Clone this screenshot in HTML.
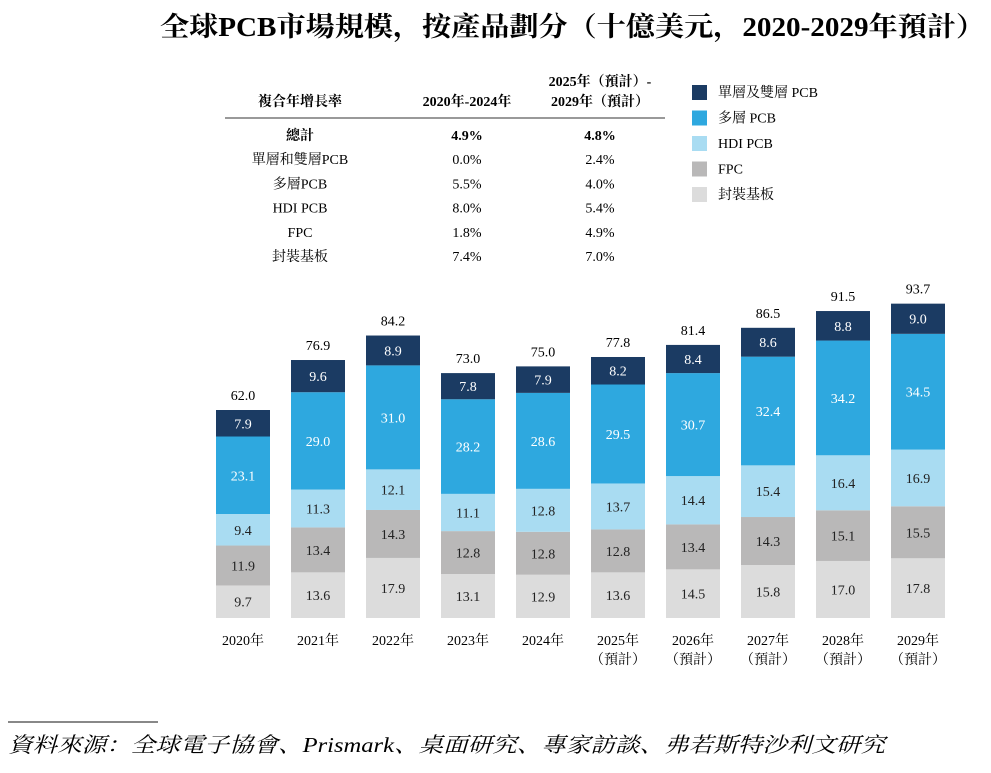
<!DOCTYPE html>
<html><head><meta charset="utf-8">
<style>
body{margin:0;background:#fff;width:991px;height:768px;overflow:hidden;font-family:"Liberation Serif","Noto Serif CJK SC","Noto Sans CJK TC",serif;color:#111}
svg text{font-family:"Liberation Serif","Noto Serif CJK SC","Noto Sans CJK TC",serif}
</style></head>
<body>
<svg id="chart" width="991" height="768">
<text x="160" y="36" font-size="27" font-weight="bold" textLength="825" lengthAdjust="spacingAndGlyphs">全球PCB市場規模，按產品劃分（十億美元，2020-2029年預計）</text>
<g id="table" font-size="14">
<text x="300" y="106" text-anchor="middle" font-weight="bold">複合年增長率</text>
<text x="467" y="106" text-anchor="middle" font-weight="bold">2020年-2024年</text>
<text x="600" y="86" text-anchor="middle" font-weight="bold">2025年（預計）-</text>
<text x="600" y="106" text-anchor="middle" font-weight="bold">2029年（預計）</text>
<line x1="225" y1="118" x2="665" y2="118" stroke="#333" stroke-width="1"/>
</g>
<g id="legend" font-size="14"></g>
<g id="bars"></g>
<g id="xlabels" font-size="14"></g>
<line x1="8" y1="722" x2="158" y2="722" stroke="#111" stroke-width="1"/>
<text x="8" y="752" font-size="21" font-style="italic" textLength="877" lengthAdjust="spacingAndGlyphs">資料來源：全球電子協會、Prismark、桌面研究、專家訪談、弗若斯特沙利文研究</text>
</svg>
<script>
const years=["2020年","2021年","2022年","2023年","2024年","2025年","2026年","2027年","2028年","2029年"];
const forecast=[false,false,false,false,false,true,true,true,true,true];
const pkg=[9.7,13.6,17.9,13.1,12.9,13.6,14.5,15.8,17.0,17.8];
const fpc=[11.9,13.4,14.3,12.8,12.8,12.8,13.4,14.3,15.1,15.5];
const hdi=[9.4,11.3,12.1,11.1,12.8,13.7,14.4,15.4,16.4,16.9];
const multi=[23.1,29.0,31.0,28.2,28.6,29.5,30.7,32.4,34.2,34.5];
const single=[7.9,9.6,8.9,7.8,7.9,8.2,8.4,8.6,8.8,9.0];
const totals=[62.0,76.9,84.2,73.0,75.0,77.8,81.4,86.5,91.5,93.7];
const seriesNames=["單層及雙層 PCB","多層 PCB","HDI PCB","FPC","封裝基板"];
const tableRows=["總計","單層和雙層PCB","多層PCB","HDI PCB","FPC","封裝基板"];
const cagr1=["4.9%","0.0%","5.5%","8.0%","1.8%","7.4%"];
const cagr2=["4.8%","2.4%","4.0%","5.4%","4.9%","7.0%"];
const NS="http://www.w3.org/2000/svg";
function mk(t,a,p,txt){const e=document.createElementNS(NS,t);for(const k in a)e.setAttribute(k,a[k]);if(txt!==undefined)e.textContent=txt;p.appendChild(e);return e;}
const base=618,scale=208/62,x0=243,step=75,bw=54;
const y=v=>base-v*scale, x=i=>x0+i*step;
const colors=["#dcdcdc","#b9b8b8","#a9dcf2","#2ea8df","#1b3b63"];
const textCol=["#222","#222","#222","#fff","#fff"];
const segNames=["packaging-substrate","fpc","hdi-pcb","multilayer-pcb","single-double-pcb"];
const series=[pkg,fpc,hdi,multi,single];
const bars=document.getElementById('bars');
years.forEach((yr,i)=>{let cum=0;
 series.forEach((s,k)=>{const v=s[i];
  const r=mk('rect',{x:x(i)-bw/2,y:y(cum+v),width:bw,height:v*scale,fill:colors[k]},bars);
  
  
  const t=mk('text',{x:x(i),y:y(cum+v/2)+5,'text-anchor':'middle','font-size':14,fill:textCol[k]},bars,v.toFixed(1));
  
  
  cum+=v;});
 const tt=mk('text',{x:x(i),y:y(totals[i])-10,'text-anchor':'middle','font-size':14},bars,totals[i].toFixed(1));
 
 
 const xl=document.getElementById('xlabels');
 const l=mk('text',{x:x(i),y:645,'text-anchor':'middle'},xl,yr);
 
 
 if(forecast[i]){const f=mk('text',{x:x(i),y:664,'text-anchor':'middle'},xl,"（預計）");
  
  }
});
const tb=document.getElementById('table');
tableRows.forEach((r,j)=>{const yy=140+j*24.2,b=j===0?'bold':'normal';
 const a=mk('text',{x:300,y:yy,'text-anchor':'middle','font-weight':b},tb,r);
 
 
 const c=mk('text',{x:467,y:yy,'text-anchor':'middle','font-weight':b},tb,cagr1[j]);
 
 
 const d=mk('text',{x:600,y:yy,'text-anchor':'middle','font-weight':b},tb,cagr2[j]);
 
 });
const lg=document.getElementById('legend');
const lgCols=["#1b3b63","#2ea8df","#a9dcf2","#b9b8b8","#dcdcdc"];
seriesNames.forEach((n,k)=>{const yy=92+k*25.5;
 const s=mk('rect',{x:692,y:yy-7,width:15,height:15,fill:lgCols[k]},lg);
 
 
 const t=mk('text',{x:718,y:yy+5},lg,n);
 
 });
</script>
</body></html>
